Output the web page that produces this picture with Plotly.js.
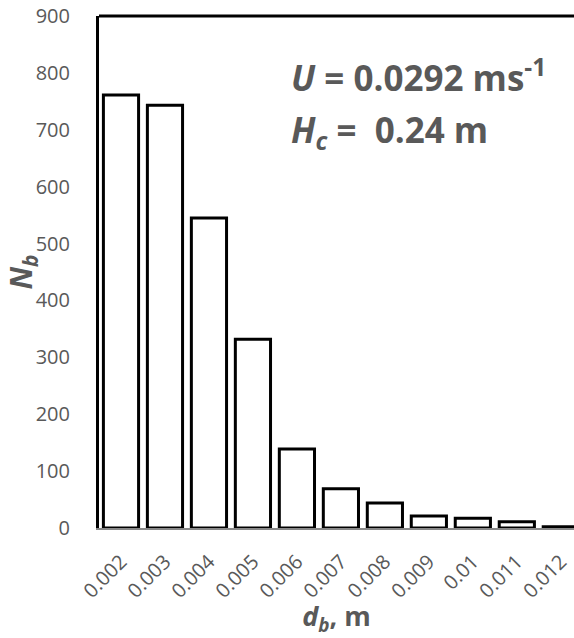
<!DOCTYPE html>
<html><head><meta charset="utf-8">
<script src="https://cdn.plot.ly/plotly-3.0.1.min.js"></script>
<style>html,body{margin:0;padding:0;background:#fff}#c{width:574px;height:638px}</style>
</head><body><div id="c"></div>
<script>
const categories = ["0.002","0.003","0.004","0.005","0.006","0.007","0.008","0.009","0.01","0.011","0.012"];
const counts = [761, 743, 545, 332, 139, 69, 44, 21, 17, 11, 2];
const yTicks = [0,100,200,300,400,500,600,700,800,900];
const grey = "#595959";
const fnt = "'Open Sans', sans-serif";

const trace = {
  type: "bar", x: categories, y: counts,
  marker: {color: "#ffffff", line: {color: "#000000", width: 3}},
  width: 0.8, hoverinfo: "none"
};
const layout = {
  width: 574, height: 638,
  margin: {l: 99, r: 0, t: 16, b: 110},
  paper_bgcolor: "#fff", plot_bgcolor: "#fff",
  showlegend: false,
  xaxis: {
    type: "category", range: [-0.5, 10.3], tickangle: -45,
    tickfont: {family: fnt, size: 20, color: grey},
    showgrid: false, showline: true, linecolor: "#888888", linewidth: 2,
    ticks: "", ticklabelstandoff: 12, fixedrange: true,
    title: {text: "<b><i>d<sub>b</sub></i>, m</b>", font: {family: fnt, size: 27, color: grey}, standoff: 2}
  },
  yaxis: {
    range: [0, 900], tickvals: yTicks, showgrid: false, zeroline: false,
    showline: true, linecolor: "#000", linewidth: 3, ticks: "",
    ticklabelstandoff: 22,
    tickfont: {family: fnt, size: 20, color: grey},
    title: {text: "<b><i>N<sub>b</sub></i></b>", font: {family: fnt, size: 30, color: grey}, standoff: 0}
  },
  shapes: [{type: "line", xref: "paper", yref: "paper", x0: 0, x1: 1, y0: 1, y1: 1, line: {color: "#000", width: 3}}],
  annotations: [
    {xref: "paper", yref: "paper", x: 0.4, y: 0.883, xanchor: "left", yanchor: "middle", showarrow: false,
     text: "<b><i>U</i> = 0.0292 ms<sup>-1</sup></b>", font: {family: fnt, size: 35, color: grey}},
    {xref: "paper", yref: "paper", x: 0.4, y: 0.775, xanchor: "left", yanchor: "middle", showarrow: false,
     text: "<b><i>H<sub>c</sub></i> =  0.24 m</b>", font: {family: fnt, size: 35, color: grey}}
  ]
};
Plotly.newPlot("c", [trace], layout, {staticPlot: true});
</script></body></html>
